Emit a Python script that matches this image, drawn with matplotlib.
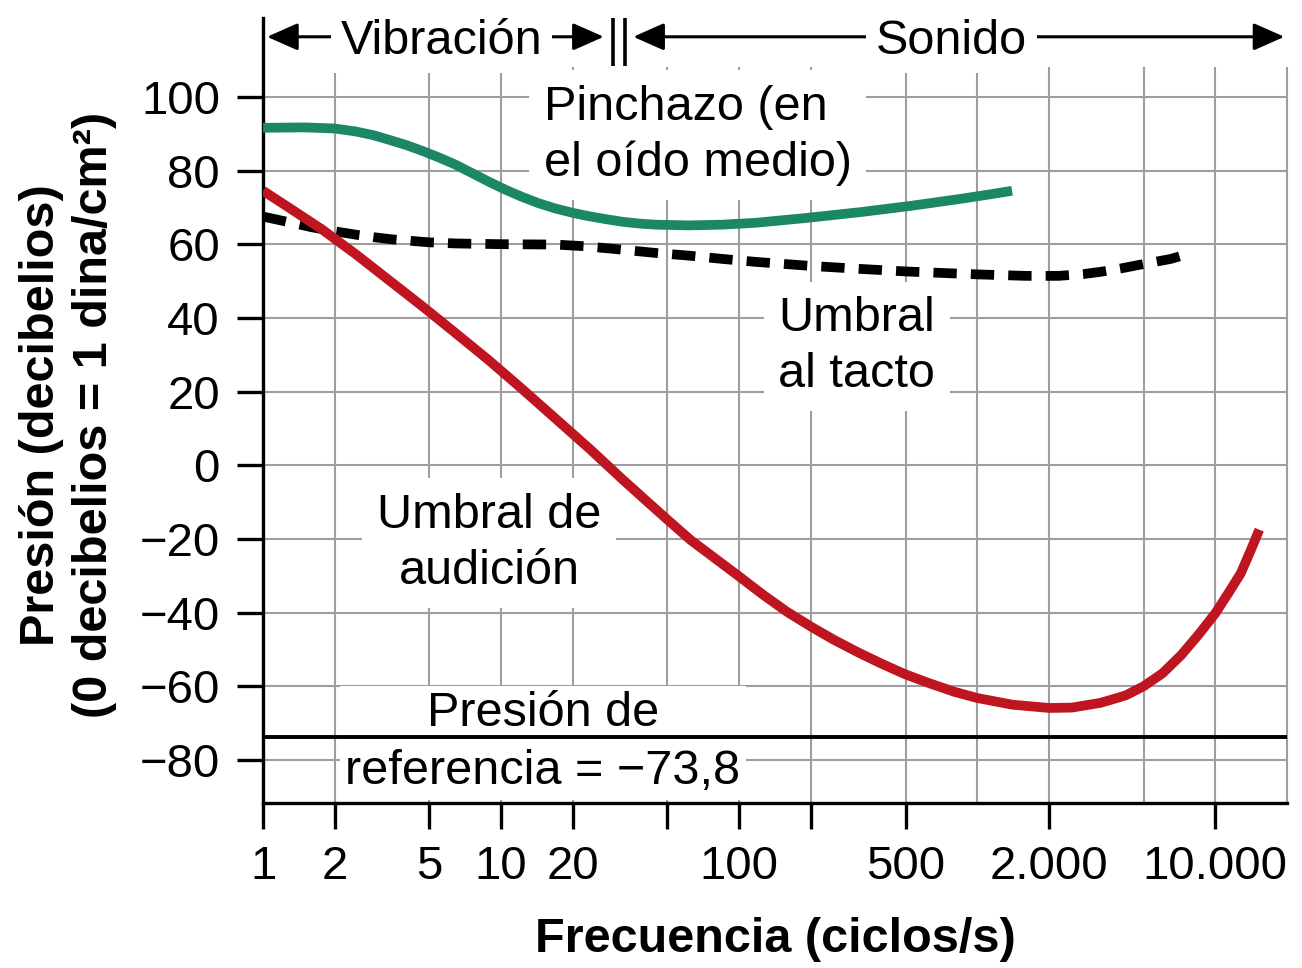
import matplotlib.pyplot as plt

plt.rcParams['font.family'] = ['Liberation Sans', 'DejaVu Sans']

# values: frequency (Hz) and pressure (dB)
pinchazo_hz = [1, 1.5, 2.0, 2.45, 2.9, 3.36, 4.0, 4.68, 5.5, 6.43, 7.5, 8.85,
               10.5, 12.3, 14.4, 16.9, 20, 23.4, 27.5, 32.2, 38, 44.5, 61.3,
               84.8, 117, 190, 323, 525, 850, 1150, 1400]
pinchazo_db = [91.6, 91.7, 91.4, 90.6, 89.6, 88.4, 86.9, 85.3, 83.5, 81.6, 79.4,
               77.0, 74.7, 72.8, 71.1, 69.7, 68.5, 67.6, 66.8, 66.1, 65.6, 65.3,
               65.1, 65.3, 65.8, 67.1, 68.7, 70.4, 72.3, 73.6, 74.5]

tacto_hz = [1, 1.3, 1.6, 2.0, 2.5, 3.0, 3.5, 5, 6.4, 10, 16.9, 23, 32.3, 45,
            61.3, 85, 117, 200, 320, 500, 1000, 1600, 2200, 2800, 3300, 4000,
            4800, 6500, 7800]
tacto_db = [67.5, 65.9, 64.6, 63.5, 62.5, 61.8, 61.3, 60.5, 60.2, 60.0, 59.9,
            59.4, 58.5, 57.6, 56.9, 56.0, 55.2, 54.1, 53.3, 52.6, 51.8, 51.4,
            51.4, 51.9, 52.5, 53.4, 54.4, 56.0, 57.5]

audicion_hz = [1, 1.28, 1.77, 2.45, 3.37, 4.66, 6.43, 8.88, 12.3, 16.9, 23.4,
               32.3, 40, 49, 62.5, 80, 100, 125, 158, 200, 250, 320, 400, 500,
               630, 800, 1000, 1400, 2000, 2500, 3300, 4200, 5000, 6000, 7200,
               8500, 10000, 11400, 12800, 14000, 15300]
audicion_db = [74.5, 70.0, 64.0, 57.3, 50.3, 43.2, 35.9, 28.5, 20.6, 12.7, 4.6,
               -3.8, -9.2, -14.3, -20.3, -25.5, -30.2, -35.0, -39.7, -43.8,
               -47.4, -51.0, -54.0, -56.8, -59.2, -61.5, -63.2, -65.0, -65.9,
               -65.8, -64.5, -62.5, -60.0, -56.5, -51.5, -46.0, -40.2, -34.5,
               -29.3, -23.5, -17.5]

referencia_db = -73.8

grid_hz = [1, 2, 5, 10, 20, 50, 100, 200, 500, 1000, 2000, 5000, 10000, 20000]
tick_hz = [1, 2, 5, 10, 20, 50, 100, 200, 500, 2000, 10000]
tick_labels = ['1', '2', '5', '10', '20', '', '100', '', '500', '2.000', '10.000']
y_ticks = [-80, -60, -40, -20, 0, 20, 40, 60, 80, 100]
y_labels = ['\u221280', '\u221260', '\u221240', '\u221220', '0', '20', '40',
            '60', '80', '100']

GREEN = '#1b8766'
RED = '#bf1520'
GRID = '#9e9e9e'
FS = 34

YMIN, YMAX = -91.7, 108.1
XMIN, XMAX = 1, 20000

fig = plt.figure(figsize=(13.02, 9.68), dpi=100)
ax = fig.add_axes([263 / 1302, 1 - 803 / 968, 1024 / 1302, 736 / 968])
ax.set_xscale('log')
ax.set_xlim(XMIN, XMAX)
ax.set_ylim(YMIN, YMAX)

# grid drawn by hand (also at 1000 and 5000, where there is no tick)
ax.vlines(grid_hz, YMIN, YMAX, colors=GRID, lw=1.5, zorder=1, clip_on=False)
ax.hlines(y_ticks, XMIN, XMAX, colors=GRID, lw=1.5, zorder=1)

ax.set_xticks(tick_hz)
ax.set_xticklabels(tick_labels)
ax.xaxis.set_minor_locator(plt.NullLocator())
ax.set_yticks(y_ticks)
ax.set_yticklabels(y_labels)
ax.tick_params(direction='out', length=19, width=2.4, labelsize=FS, color='k')
ax.tick_params(axis='x', pad=11)
ax.tick_params(axis='y', pad=12)

for side in ['top', 'right']:
    ax.spines[side].set_visible(False)
for side in ['left', 'bottom']:
    ax.spines[side].set_linewidth(2.4)
ax.spines['left'].set_bounds(YMIN, 121.4)

# curves
ax.plot(pinchazo_hz, pinchazo_db, color=GREEN, lw=7, solid_capstyle='butt',
        solid_joinstyle='round', zorder=4)
ax.plot(tacto_hz, tacto_db, color='k', lw=7, linestyle=(0, (2.4, 1.45)),
        dash_capstyle='butt', zorder=4)
ax.plot(audicion_hz, audicion_db, color=RED, lw=7, solid_capstyle='butt',
        solid_joinstyle='round', zorder=4)
ax.axhline(referencia_db, color='k', lw=2.8, zorder=4)

# labels in the plot (white boxes hide the grid, kept under the spines)
box = dict(boxstyle='square,pad=0.3', fc='white', ec='none')
ax.text(15.1, 89.6, 'Pinchazo (en\nel oído medio)', ha='left', va='center',
        fontsize=FS + 1, bbox=box, zorder=2, linespacing=1.3)
ax.text(146, 32.2, 'Umbral\nal tacto', ha='left', va='center',
        fontsize=FS + 1, bbox=box, zorder=2, linespacing=1.3)
ax.text(8.9, -21.2, 'Umbral de\naudición', ha='center', va='center',
        multialignment='center', fontsize=FS + 1, bbox=box, zorder=2,
        linespacing=1.3)
ax.text(15, -75.3, 'Presión de\nreferencia = \u221273,8', ha='center',
        va='center', multialignment='center', fontsize=FS + 1,
        bbox=dict(boxstyle='square,pad=0.12', fc='white', ec='none'),
        zorder=2, linespacing=1.35)

# header: Vibración | Sonido
HEAD_Y = 116.3
arrow = dict(arrowstyle='<|-|>,head_length=0.95,head_width=0.42', color='k',
             lw=2.2, mutation_scale=20, shrinkA=0, shrinkB=0)
hbox = dict(boxstyle='square,pad=0.2', fc='white', ec='none')
ax.annotate('', xy=(1.04, HEAD_Y), xytext=(27, HEAD_Y), arrowprops=arrow,
            annotation_clip=False, zorder=5)
ax.text(5.6, HEAD_Y - 1.2, 'Vibración', ha='center', va='center',
        fontsize=FS + 1, bbox=hbox, zorder=6, clip_on=False)
ax.annotate('', xy=(35.9, HEAD_Y), xytext=(19500, HEAD_Y), arrowprops=arrow,
            annotation_clip=False, zorder=5)
ax.text(780, HEAD_Y - 1.2, 'Sonido', ha='center', va='center',
        fontsize=FS + 1, bbox=hbox, zorder=6, clip_on=False)
ax.vlines([29.6, 33], 108.5, 121.5, colors='k', lw=2.6, clip_on=False)

# axis titles
fig.text(775 / 1302, 1 - 940 / 968, 'Frecuencia (ciclos/s)', ha='center',
         va='center', fontsize=FS + 1, weight='bold')
fig.text(68 / 1302, 1 - 415 / 968,
         'Presión (decibelios)\n(0 decibelios = 1 dina/cm²)', rotation=90,
         ha='center', va='center', multialignment='center', fontsize=FS + 1,
         weight='bold', linespacing=1.25)

fig.savefig('out.png', dpi=100)
